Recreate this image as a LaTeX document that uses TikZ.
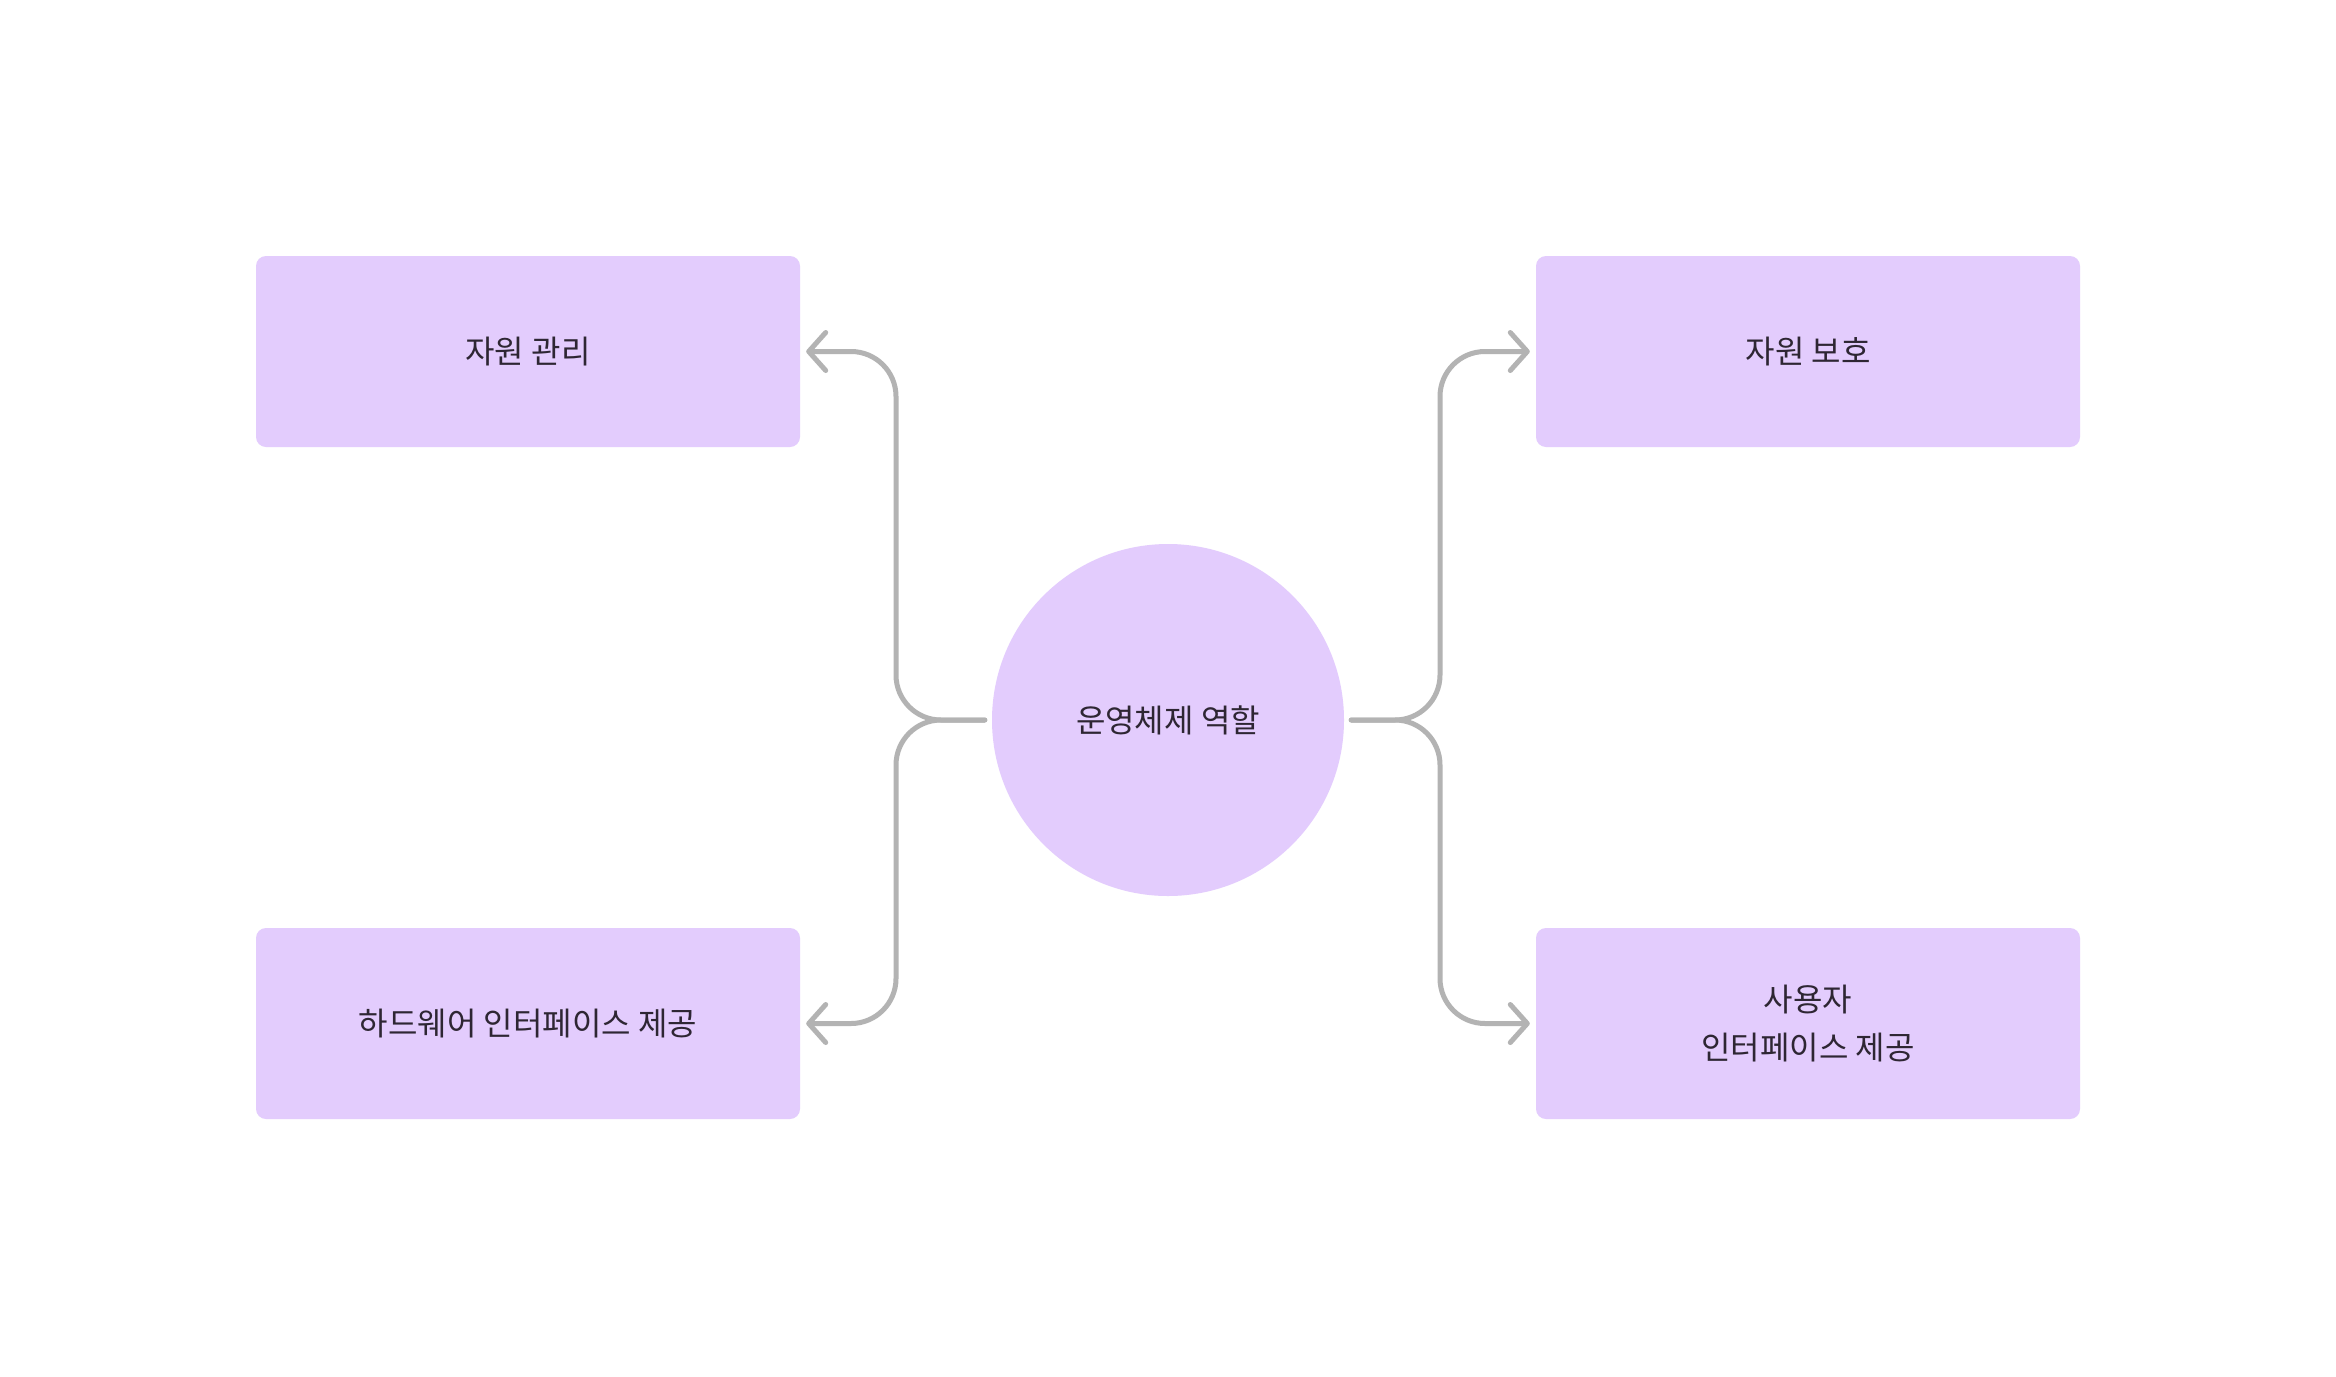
\documentclass[tikz,border=0pt]{standalone}
\usepackage{fontspec}
\setmainfont{Noto Sans CJK KR}
\usetikzlibrary{arrows.meta}
\definecolor{boxfill}{HTML}{E3CCFD}
\definecolor{txt}{HTML}{2E2633}
\definecolor{conn}{HTML}{B3B3B3}
\begin{document}
\begin{tikzpicture}[x=1pt,y=-1pt,
  lbl/.style={font=\fontsize{32}{48}\selectfont, text=txt, align=center},
  boxnode/.style={lbl, fill=boxfill, draw=none, rounded corners=10pt, minimum width=544pt, minimum height=191pt, inner sep=0pt},
  hub/.style={lbl, fill=boxfill, circle, minimum size=352pt, inner sep=0pt},
  connline/.style={draw=conn, line width=5pt, line cap=round, line join=round, rounded corners=45pt,
    -{Straight Barb[length=17pt,width=38pt,round]}}
]
\useasboundingbox (0,0) rectangle (2336,1376);
\fill[white] (0,0) rectangle (2336,1376);
\node[hub] (c) at (1168,720) {운영체제 역할};
\node[boxnode] (b1) at (528,351.5) {자원 관리};
\node[boxnode] (b2) at (528,1023.5) {하드웨어 인터페이스 제공};
\node[boxnode] (b3) at (1808,351.5) {자원 보호};
\node[boxnode] (b4) at (1808,1023.5) {사용자\\인터페이스 제공};
\coordinate (cl) at ([xshift=-7pt]c.west);
\coordinate (cr) at ([xshift=7pt]c.east);
\draw[connline, shorten >=6pt] (cl) -- (896,720) |- (b1.east);
\draw[connline, shorten >=6pt] (cl) -- (896,720) |- (b2.east);
\draw[connline, shorten >=6pt] (cr) -- (1440,720) |- (b3.west);
\draw[connline, shorten >=6pt] (cr) -- (1440,720) |- (b4.west);
\end{tikzpicture}
\end{document}
